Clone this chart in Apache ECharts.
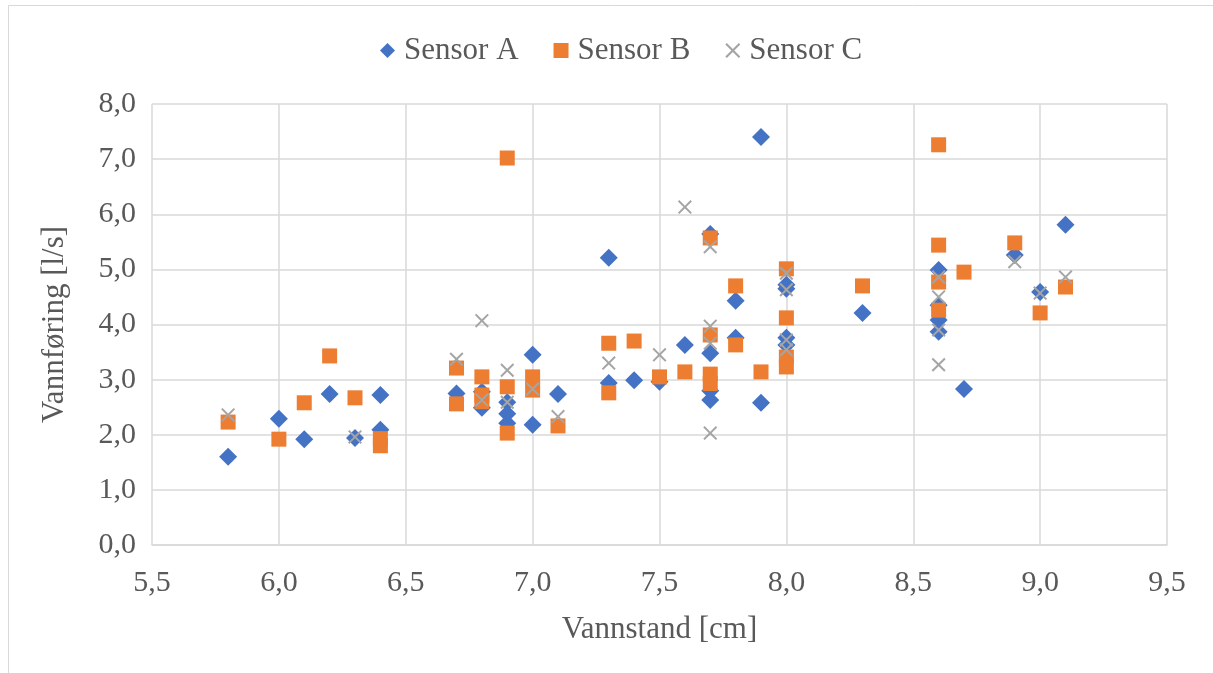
<!DOCTYPE html>
<html><head><meta charset="utf-8">
<script src="https://cdn.jsdelivr.net/npm/echarts@6/dist/echarts.min.js"></script>
<style>html,body{margin:0;padding:0;background:#fff}#c{width:1213px;height:673px}</style>
</head><body><div id="c"></div>
<script>
const seriesNames = ['Sensor A', 'Sensor B', 'Sensor C'];
const sensorA = [[5.8,1.60],[6.0,2.29],[6.1,1.92],[6.2,2.74],[6.3,1.94],[6.4,2.72],[6.4,2.09],[6.7,2.75],[6.8,2.78],[6.8,2.49],[6.9,2.59],[6.9,2.38],[6.9,2.21],[7.0,3.45],[7.0,2.18],[7.1,2.74],[7.3,5.21],[7.3,2.94],[7.4,2.99],[7.5,2.96],[7.6,3.63],[7.7,5.64],[7.7,3.48],[7.7,2.63],[7.7,2.80],[7.8,4.43],[7.8,3.76],[7.9,7.40],[7.9,2.58],[8.0,4.72],[8.0,4.65],[8.0,3.76],[8.0,3.63],[8.3,4.21],[8.6,4.99],[8.6,4.35],[8.6,4.08],[8.6,3.87],[8.7,2.83],[8.9,5.26],[9.0,4.59],[9.1,5.81]];
const sensorB = [[5.8,2.23],[6.0,1.92],[6.1,2.58],[6.2,3.43],[6.3,2.67],[6.4,1.93],[6.4,1.80],[6.7,3.21],[6.7,2.56],[6.8,3.05],[6.8,2.72],[6.8,2.60],[6.9,7.02],[6.9,2.87],[6.9,2.03],[7.0,3.05],[7.0,2.81],[7.1,2.16],[7.3,3.66],[7.3,2.76],[7.4,3.70],[7.5,3.05],[7.6,3.14],[7.7,5.57],[7.7,3.81],[7.7,3.10],[7.7,2.93],[7.8,4.70],[7.8,3.63],[7.9,3.14],[8.0,5.01],[8.0,4.12],[8.0,3.41],[8.0,3.23],[8.3,4.70],[8.6,7.26],[8.6,5.44],[8.6,4.77],[8.6,4.26],[8.7,4.95],[8.9,5.48],[9.0,4.21],[9.1,4.68]];
const sensorC = [[5.8,2.36],[6.3,1.96],[6.7,3.37],[6.8,4.07],[6.8,2.63],[6.9,3.17],[6.9,2.59],[7.0,2.83],[7.1,2.33],[7.3,3.30],[7.5,3.45],[7.6,6.13],[7.7,5.41],[7.7,3.97],[7.7,3.66],[7.7,2.03],[8.0,4.93],[8.0,4.63],[8.0,3.72],[8.0,3.54],[8.6,4.86],[8.6,4.50],[8.6,3.90],[8.6,3.27],[8.9,5.14],[9.0,4.57],[9.1,4.86]];
const xAxisName = 'Vannstand [cm]';
const yAxisName = 'Vannføring [l/s]';

const FONT = '"Liberation Serif", "Times New Roman", serif';
const crossPath = 'path://M0,1L1,0L5,4L9,0L10,1L6,5L10,9L9,10L5,6L1,10L0,9L4,5Z';
const fmt = v => v.toFixed(1).replace('.', ',');

const chart = echarts.init(document.getElementById('c'), null, {renderer: 'canvas'});
chart.setOption({
  animation: false,
  backgroundColor: '#fff',
  graphic: [{type: 'rect', shape: {x: 8.5, y: 5.5, width: 1220, height: 700}, style: {fill: 'none', stroke: '#d9d9d9', lineWidth: 1}, z: -1}],
  legend: {
    top: 30, left: 375, itemGap: 35, itemWidth: 15, itemHeight: 15,
    textStyle: {fontFamily: FONT, fontSize: 31, color: '#595959', padding: [0, 0, 0, 4]},
    data: [
      {name: seriesNames[0], icon: 'diamond', itemStyle: {color: '#4472c4'}},
      {name: seriesNames[1], icon: 'rect', itemStyle: {color: '#ed7d31'}},
      {name: seriesNames[2], icon: crossPath, itemStyle: {color: '#a5a5a5'}}
    ]
  },
  grid: {left: 152, right: 46, top: 104, bottom: 128},
  xAxis: {
    type: 'value', min: 5.5, max: 9.5, interval: 0.5,
    name: xAxisName, nameLocation: 'middle', nameGap: 69,
    nameTextStyle: {fontFamily: FONT, fontSize: 31, color: '#595959'},
    axisLine: {show: true, lineStyle: {color: '#d9d9d9', width: 1.5}},
    axisTick: {show: false},
    axisLabel: {fontFamily: FONT, fontSize: 30, color: '#595959', formatter: fmt, margin: 23},
    splitLine: {show: true, lineStyle: {color: '#d9d9d9', width: 1.5}}
  },
  yAxis: {
    type: 'value', min: 0, max: 8, interval: 1,
    name: yAxisName, nameLocation: 'middle', nameGap: 82, nameRotate: 90,
    nameTextStyle: {fontFamily: FONT, fontSize: 31, color: '#595959'},
    axisLine: {show: false},
    axisTick: {show: false},
    axisLabel: {fontFamily: FONT, fontSize: 30, color: '#595959', formatter: fmt, margin: 16},
    splitLine: {show: true, lineStyle: {color: '#d9d9d9', width: 1.5}}
  },
  series: [
    {name: seriesNames[0], type: 'scatter', data: sensorA, symbol: 'diamond', symbolSize: 18, itemStyle: {color: '#4472c4', opacity: 1}},
    {name: seriesNames[1], type: 'scatter', data: sensorB, symbol: 'rect', symbolSize: 15, itemStyle: {color: '#ed7d31', opacity: 1}},
    {name: seriesNames[2], type: 'scatter', data: sensorC, symbol: crossPath, symbolSize: 14, itemStyle: {color: '#a5a5a5', opacity: 1}}
  ]
});
</script></body></html>
